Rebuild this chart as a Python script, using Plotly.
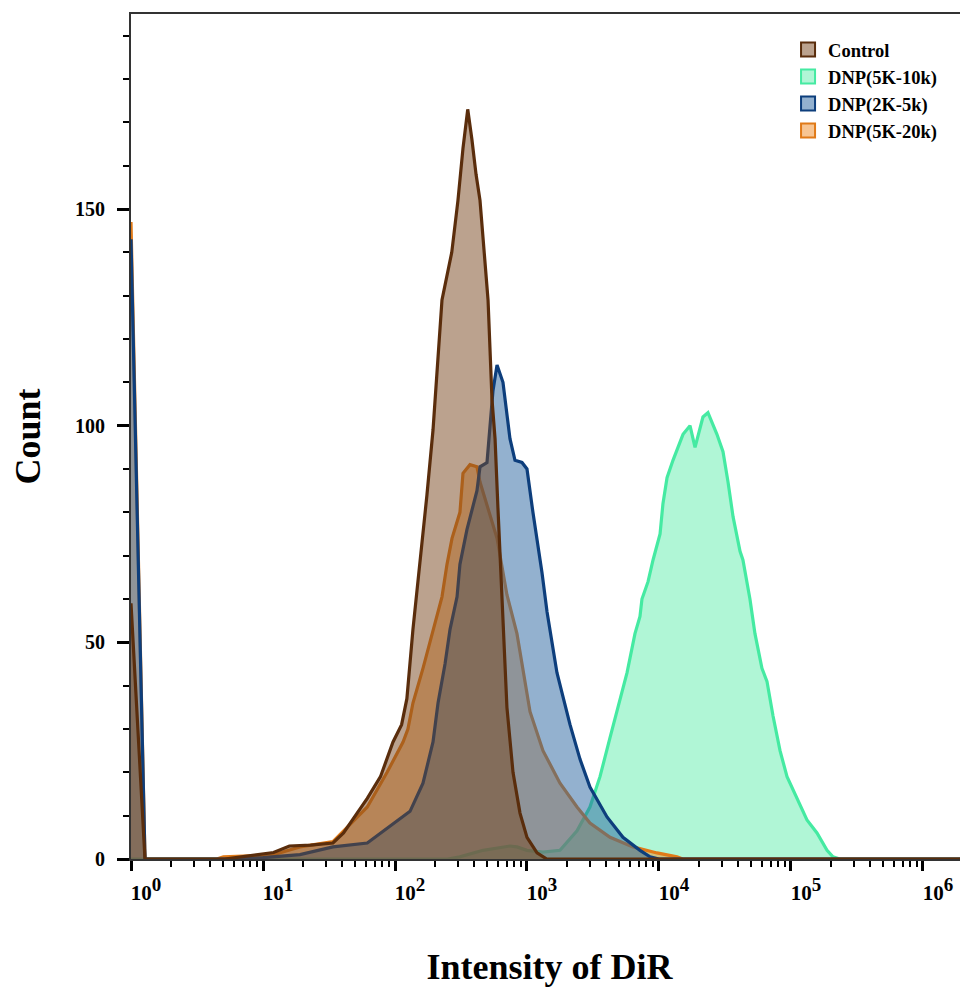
import plotly.graph_objects as go

# ---------------- data (x given as log10 of DiR intensity, y = count) ----------------
control_log10 = [0.0, 0.106, 0.71, 0.83, 0.98, 1.08, 1.2, 1.36, 1.53, 1.61, 1.70, 1.79, 1.89,
                 1.985, 2.05, 2.09, 2.136, 2.189, 2.242, 2.288, 2.303, 2.356, 2.43, 2.477, 2.515,
                 2.551, 2.583, 2.614, 2.644, 2.674, 2.705, 2.735, 2.758, 2.78, 2.811, 2.848,
                 2.894, 2.947, 3.0, 3.076, 3.15, 6.4]
control_count = [59, 0, 0, 0.5, 1, 1.5, 3, 3.2, 3.7, 6, 10, 14, 19,
                 27, 31, 37, 53, 68, 84, 99, 106, 129, 140, 152, 164,
                 173, 166, 158, 152, 140, 129, 106, 97, 81, 58, 35,
                 20, 10.6, 5, 1.4, 0, 0]

dnp_5k10k_log10 = [0.0, 2.40, 2.49, 2.667, 2.871, 2.924, 3.0, 3.121, 3.25, 3.379, 3.477, 3.553,
                   3.629, 3.705, 3.758, 3.818, 3.856, 3.871, 3.917, 3.955, 4.008, 4.03, 4.061,
                   4.106, 4.182, 4.235, 4.273, 4.333, 4.371, 4.439, 4.485, 4.523, 4.561, 4.614,
                   4.636, 4.689, 4.727, 4.78, 4.818, 4.864, 4.917, 4.97, 5.045, 5.121, 5.197,
                   5.273, 5.318, 5.37, 6.4]
dnp_5k10k_count = [0, 0, 0.5, 2, 3, 2.8, 2, 1.6, 2, 6.5, 12, 19,
                   28, 37, 43, 52, 56, 60, 64, 69, 75, 82, 88,
                   92, 98, 100, 95, 102, 103, 98, 94, 87, 79, 71,
                   69, 60, 52, 44, 41, 33, 25, 19, 14, 9, 6,
                   2, 0.5, 0, 0]

dnp_2k5k_log10 = [0.0, 0.106, 0.8, 1.0, 1.28, 1.53, 1.79, 1.985, 2.114, 2.212, 2.288, 2.326,
                  2.379, 2.417, 2.47, 2.492, 2.545, 2.621, 2.644, 2.697, 2.72, 2.742, 2.773,
                  2.818, 2.871, 2.909, 2.962, 3.0, 3.045, 3.114, 3.152, 3.227, 3.273, 3.326,
                  3.402, 3.477, 3.606, 3.727, 3.856, 3.932, 4.0, 6.4]
dnp_2k5k_count = [143, 0, 0, 0.3, 1, 2.8, 3.7, 8, 11, 17.5, 27, 36,
                  45, 53, 60.5, 68, 76, 85, 90.5, 91.5, 101, 108, 114,
                  110, 97, 92, 91.5, 90, 80, 66, 57, 43, 37.4, 31,
                  23, 16.6, 9.7, 5, 2, 0.5, 0, 0]

dnp_5k20k_log10 = [0.0, 0.106, 0.65, 0.70, 0.98, 1.08, 1.28, 1.53, 1.66, 1.79, 1.94, 2.061,
                   2.098, 2.136, 2.212, 2.288, 2.356, 2.394, 2.432, 2.492, 2.515, 2.568, 2.621,
                   2.644, 2.773, 2.848, 2.924, 3.023, 3.121, 3.25, 3.379, 3.477, 3.629, 3.803,
                   3.985, 4.136, 4.18, 6.4]
dnp_5k20k_count = [147, 0, 0, 0.5, 0.8, 1, 2.8, 4, 8, 12, 20, 27,
                   30, 36, 44, 53, 60.5, 68, 74, 80, 89, 91, 90.5,
                   87, 74, 61, 52, 34, 25, 17.5, 12, 8.3, 5, 2.8,
                   1.4, 0.5, 0, 0]

legend_names = ["Control", "DNP(5K-10k)", "DNP(2K-5k)", "DNP(5K-20k)"]
x_tick_exponents = [0, 1, 2, 3, 4, 5, 6]
y_tick_values = [0, 50, 100, 150]

# ---------------- styles ----------------
styles = {
    "Control": dict(line="#5a2d0c", fill="rgba(120,70,30,0.5)"),
    "DNP(5K-10k)": dict(line="#45eaa2", fill="rgba(80,235,165,0.45)"),
    "DNP(2K-5k)": dict(line="#0d3e7c", fill="rgba(40,100,160,0.5)"),
    "DNP(5K-20k)": dict(line="#e07a18", fill="rgba(240,140,40,0.5)"),
}

series = {
    "Control": (control_log10, control_count),
    "DNP(5K-10k)": (dnp_5k10k_log10, dnp_5k10k_count),
    "DNP(2K-5k)": (dnp_2k5k_log10, dnp_2k5k_count),
    "DNP(5K-20k)": (dnp_5k20k_log10, dnp_5k20k_count),
}

SERIF = "Liberation Serif"
fig = go.Figure()

# drawing order (bottom -> top)
for name in ["DNP(5K-10k)", "DNP(5K-20k)", "DNP(2K-5k)", "Control"]:
    lg, cnt = series[name]
    fig.add_trace(go.Scatter(
        x=[10 ** v for v in lg], y=cnt, mode="lines", fill="tozeroy",
        fillcolor=styles[name]["fill"],
        line=dict(color=styles[name]["line"], width=3.2),
        showlegend=False, name=name, hoverinfo="skip"))

# legend entries: bordered squares
for name in legend_names:
    fig.add_trace(go.Scatter(
        x=[None], y=[None], mode="markers", name=name, legendgroup=name,
        marker=dict(symbol="square", size=14, color=styles[name]["fill"],
                    line=dict(color=styles[name]["line"], width=2))))

minor_x = [m * 10 ** k for k in range(0, 7) for m in range(2, 10)]

# page body adds an 8px offset; figure sized to fit the 968x990 window
fig.update_layout(
    width=960, height=982,
    margin=dict(l=123, r=0, t=6, b=131, autoexpand=False),
    paper_bgcolor="white", plot_bgcolor="white",
    font=dict(family=SERIF, color="black"),
    legend=dict(x=0.785, y=0.980, xanchor="left", yanchor="top",
                font=dict(family=SERIF, size=18.5, color="black", weight="bold"),
                bgcolor="rgba(0,0,0,0)", tracegroupgap=0, itemwidth=30),
    xaxis=dict(
        type="log", range=[0, 6.341], automargin=False,
        showline=True, linecolor="#333333", linewidth=2, mirror=True,
        showgrid=False, zeroline=False,
        ticks="outside", ticklen=10, tickwidth=2.5, tickcolor="black",
        tickvals=[10 ** e for e in x_tick_exponents],
        ticktext=["10<sup><span style='font-size:19px'>%d</span></sup>" % e
                  for e in x_tick_exponents],
        ticklabelshift=15, ticklabelstandoff=4,
        tickfont=dict(family=SERIF, size=21, color="black", weight="bold"),
        minor=dict(tickvals=minor_x, ticks="outside", ticklen=6, tickwidth=2,
                   tickcolor="black", showgrid=False),
        title=dict(text="Intensity of DiR", standoff=50,
                   font=dict(family=SERIF, size=36, color="black", weight="bold")),
    ),
    yaxis=dict(
        range=[0, 195], automargin=False,
        showline=True, linecolor="#333333", linewidth=2,
        showgrid=False, zeroline=False,
        ticks="outside", ticklen=12, tickwidth=2.5, tickcolor="black",
        tickvals=y_tick_values, ticklabelstandoff=8,
        tickfont=dict(family=SERIF, size=20, color="black", weight="bold"),
        minor=dict(dtick=10, tick0=0, ticks="outside", ticklen=6, tickwidth=2,
                   tickcolor="black", showgrid=False),
        title=dict(text="Count", standoff=26,
                   font=dict(family=SERIF, size=36, color="black", weight="bold")),
    ),
)

fig.write_html("out.html")
